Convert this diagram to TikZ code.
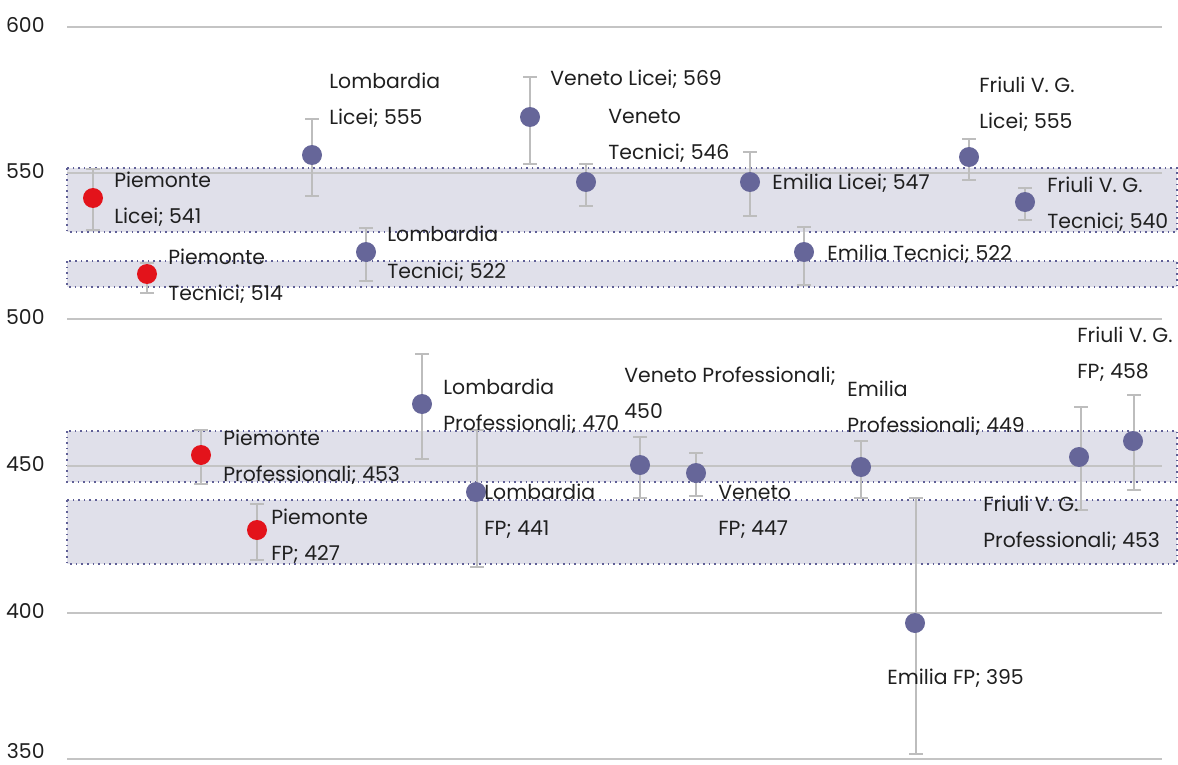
\documentclass[tikz,border=0pt]{standalone}
\usepackage{fontspec}
\setmainfont{Poppins}
\usetikzlibrary{positioning}
\definecolor{dotblue}{HTML}{666699}
\definecolor{dotred}{HTML}{E3131B}
\definecolor{bandfill}{HTML}{E0E0EA}
\definecolor{bandline}{HTML}{5F5F96}
\definecolor{gridgray}{HTML}{C4C4C4}
\definecolor{errgray}{HTML}{BDBDBD}
\definecolor{txt}{HTML}{1F1F1F}

\begin{document}
\begin{tikzpicture}[x=0.5pt,y=-0.5pt,
  band/.style={fill=bandfill,draw=bandline,dotted,line width=0.8pt},
  grid/.style={gridgray,line width=1pt},
  err/.style={errgray,line width=1pt},
  pt/.style={circle,inner sep=0pt,minimum size=10pt},
  ptblue/.style={pt,fill=dotblue},
  ptred/.style={pt,fill=dotred},
  lbl/.style={font=\fontsize{10.2}{18}\selectfont,text=txt,anchor=base west,align=left,inner sep=0pt},
  ylbl/.style={font=\fontsize{10.2}{18}\selectfont,text=txt,anchor=east,inner sep=0pt}]
\useasboundingbox (0,0) rectangle (1178,765);

% bands
\draw[band] (67,168) rectangle (1177,232);
\draw[band] (67,261) rectangle (1177,287);
\draw[band] (67,431) rectangle (1177,482);
\draw[band] (67,500) rectangle (1177,564);

% grid and axis
\draw[grid] (67,27) -- (1162,27);
\node[ylbl] (y600) at (45,25) {600};
\draw[grid] (67,173) -- (1162,173);
\node[ylbl] (y550) at (45,171) {550};
\draw[grid] (67,319) -- (1162,319);
\node[ylbl] (y500) at (45,317) {500};
\draw[grid] (67,466) -- (1162,466);
\node[ylbl] (y450) at (45,464) {450};
\draw[grid] (67,613) -- (1162,613);
\node[ylbl] (y400) at (45,611) {400};
\draw[grid] (67,759) -- (1162,759);
\node[ylbl] (y350) at (45,751) {350};

% error bars
\draw[err] (93,169) -- (93,230) (86,169) -- (100,169) (86,230) -- (100,230);
\draw[err] (147,263) -- (147,293) (140,263) -- (154,263) (140,293) -- (154,293);
\draw[err] (312,119) -- (312,196) (305,119) -- (319,119) (305,196) -- (319,196);
\draw[err] (366,228) -- (366,281) (359,228) -- (373,228) (359,281) -- (373,281);
\draw[err] (530,77) -- (530,164) (523,77) -- (537,77) (523,164) -- (537,164);
\draw[err] (586,164) -- (586,206) (579,164) -- (593,164) (579,206) -- (593,206);
\draw[err] (750,152) -- (750,216) (743,152) -- (757,152) (743,216) -- (757,216);
\draw[err] (804,227) -- (804,285) (797,227) -- (811,227) (797,285) -- (811,285);
\draw[err] (969,139) -- (969,180) (962,139) -- (976,139) (962,180) -- (976,180);
\draw[err] (1025,188) -- (1025,220) (1018,188) -- (1032,188) (1018,220) -- (1032,220);
\draw[err] (201,430) -- (201,484) (194,430) -- (208,430) (194,484) -- (208,484);
\draw[err] (257,504) -- (257,560) (250,504) -- (264,504) (250,560) -- (264,560);
\draw[err] (422,354) -- (422,459) (415,354) -- (429,354) (415,459) -- (429,459);
\draw[err] (477,430) -- (477,567) (470,430) -- (484,430) (470,567) -- (484,567);
\draw[err] (640,437) -- (640,498) (633,437) -- (647,437) (633,498) -- (647,498);
\draw[err] (696,453) -- (696,496) (689,453) -- (703,453) (689,496) -- (703,496);
\draw[err] (861,441) -- (861,498) (854,441) -- (868,441) (854,498) -- (868,498);
\draw[err] (916,498) -- (916,754) (909,498) -- (923,498) (909,754) -- (923,754);
\draw[err] (1081,407) -- (1081,510) (1074,407) -- (1088,407) (1074,510) -- (1088,510);
\draw[err] (1134,395) -- (1134,490) (1127,395) -- (1141,395) (1127,490) -- (1141,490);

% points
\node[ptred] (pieLic) at (93,198) {};
\node[ptred] (pieTec) at (147,274) {};
\node[ptblue] (lomLic) at (312,155) {};
\node[ptblue] (lomTec) at (366,252) {};
\node[ptblue] (venLic) at (530,117) {};
\node[ptblue] (venTec) at (586,182) {};
\node[ptblue] (emiLic) at (750,182) {};
\node[ptblue] (emiTec) at (804,252) {};
\node[ptblue] (friLic) at (969,157) {};
\node[ptblue] (friTec) at (1025,202) {};
\node[ptred] (piePro) at (201,455) {};
\node[ptred] (pieFP) at (257,530) {};
\node[ptblue] (lomPro) at (422,404) {};
\node[ptblue] (lomFP) at (476,492) {};
\node[ptblue] (venPro) at (640,465) {};
\node[ptblue] (venFP) at (696,473) {};
\node[ptblue] (emiPro) at (861,467) {};
\node[ptblue] (emiFP) at (915,623) {};
\node[ptblue] (friPro) at (1079,457) {};
\node[ptblue] (friFP) at (1133,441) {};

% labels (base = last line)
\node[lbl] (pieLicL) at (114,223) {Piemonte\\Licei; 541};
\node[lbl] (pieTecL) at (168,300) {Piemonte\\Tecnici; 514};
\node[lbl] (lomLicL) at (329,125) {Lombardia\\Licei; 555};
\node[lbl] (lomTecL) at (387,278) {Lombardia\\Tecnici; 522};
\node[lbl] (venLicL) at (550,86) {Veneto Licei; 569};
\node[lbl] (venTecL) at (608,160) {Veneto\\Tecnici; 546};
\node[lbl] (emiLicL) at (772,190) {Emilia Licei; 547};
\node[lbl] (emiTecL) at (827,260) {Emilia Tecnici; 522};
\node[lbl] (friLicL) at (979,129) {Friuli V. G.\\Licei; 555};
\node[lbl] (friTecL) at (1047,228) {Friuli V. G.\\Tecnici; 540};
\node[lbl] (pieProL) at (223,481) {Piemonte\\Professionali; 453};
\node[lbl] (pieFPL) at (271,560) {Piemonte\\FP; 427};
\node[lbl] (lomProL) at (443,430) {Lombardia\\Professionali; 470};
\node[lbl] (lomFPL) at (484,535) {Lombardia\\FP; 441};
\node[lbl] (venProL) at (624,418) {Veneto Professionali;\\450};
\node[lbl] (venFPL) at (718,535) {Veneto\\FP; 447};
\node[lbl] (emiProL) at (847,432) {Emilia\\Professionali; 449};
\node[lbl] (emiFPL) at (887,684) {Emilia FP; 395};
\node[lbl] (friProL) at (983,547) {Friuli V. G.\\Professionali; 453};
\node[lbl] (friFPL) at (1077,378) {Friuli V. G.\\FP; 458};

\end{tikzpicture}
\end{document}
